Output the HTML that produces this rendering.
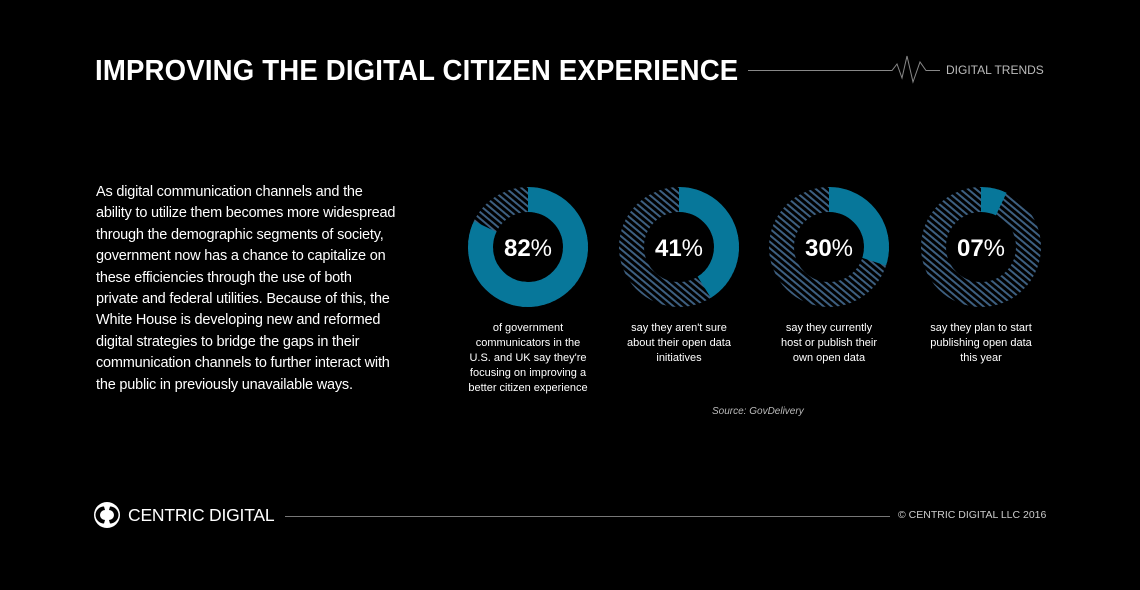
<!DOCTYPE html>
<html><head><meta charset="utf-8"><style>
html,body{margin:0;padding:0;background:#000;}
body{width:1140px;height:590px;position:relative;overflow:hidden;font-family:"Liberation Sans",sans-serif;color:#fff;}
.t{position:absolute;white-space:nowrap;}
h1{position:absolute;left:95px;top:55px;margin:0;font-size:29px;font-weight:bold;letter-spacing:0.2px;transform:scaleX(0.95);transform-origin:left;white-space:nowrap;}
.body div{height:21.4px;font-size:14.5px;letter-spacing:-0.2px;}
.cap{position:absolute;width:160px;text-align:center;font-size:11px;line-height:15px;}
</style></head><body>
<h1>IMPROVING THE DIGITAL CITIZEN EXPERIENCE</h1>
<svg width="1140" height="590" style="position:absolute;left:0;top:0">
<defs><pattern id="h" width="5" height="5" patternUnits="userSpaceOnUse" patternTransform="rotate(40)">
<rect width="5" height="5" fill="#000"/><rect width="2" height="5" fill="#3d5f80"/></pattern></defs>
<polyline points="748,70.5 892,70.5 897,64 902,78 907,56 913,82 920,62 926,70.5 940,70.5" fill="none" stroke="#888" stroke-width="1"/>
<line x1="285" y1="516.5" x2="890" y2="516.5" stroke="#777" stroke-width="1"/>
<g transform="translate(528,247) rotate(-90)">
<circle r="47.5" fill="none" stroke="url(#h)" stroke-width="25"/>
<circle r="47.5" fill="none" stroke="#07779a" stroke-width="25" stroke-dasharray="244.7 400"/>
</g>
<g transform="translate(679,247) rotate(-90)">
<circle r="47.5" fill="none" stroke="url(#h)" stroke-width="25"/>
<circle r="47.5" fill="none" stroke="#07779a" stroke-width="25" stroke-dasharray="122.4 400"/>
</g>
<g transform="translate(829,247) rotate(-90)">
<circle r="47.5" fill="none" stroke="url(#h)" stroke-width="25"/>
<circle r="47.5" fill="none" stroke="#07779a" stroke-width="25" stroke-dasharray="89.5 400"/>
</g>
<g transform="translate(981,247) rotate(-90)">
<circle r="47.5" fill="none" stroke="url(#h)" stroke-width="25"/>
<circle r="47.5" fill="none" stroke="#07779a" stroke-width="25" stroke-dasharray="20.9 400"/>
</g>
<g font-family="Liberation Sans,sans-serif" font-size="24" fill="#fff" text-anchor="middle">
<text x="528" y="256"><tspan font-weight="bold">82</tspan>%</text>
<text x="679" y="256"><tspan font-weight="bold">41</tspan>%</text>
<text x="829" y="256"><tspan font-weight="bold">30</tspan>%</text>
<text x="981" y="256"><tspan font-weight="bold">07</tspan>%</text>
</g>
<circle cx="107" cy="515" r="13" fill="#fff"/>
<path d="M104,506.5 A8.5,8.5 0 0 0 104,523.5 L105,520 A5,5 0 0 1 105,510 Z" fill="#000"/>
<path d="M110,523.5 A8.5,8.5 0 0 0 110,506.5 L109,510 A5,5 0 0 1 109,520 Z" fill="#000"/>
</svg>
<div class="t" style="left:946px;top:63px;font-size:12px;color:#bbb;">DIGITAL TRENDS</div>
<div class="t body" style="left:96px;top:184px;">
<div>As digital communication channels and the</div>
<div>ability to utilize them becomes more widespread</div>
<div>through the demographic segments of society,</div>
<div>government now has a chance to capitalize on</div>
<div>these efficiencies through the use of both</div>
<div>private and federal utilities. Because of this, the</div>
<div>White House is developing new and reformed</div>
<div>digital strategies to bridge the gaps in their</div>
<div>communication channels to further interact with</div>
<div>the public in previously unavailable ways.</div>
</div>
<div class="cap" style="left:448px;top:321px;">of government<br>communicators in the<br>U.S. and UK say they're<br>focusing on improving a<br>better citizen experience</div>
<div class="cap" style="left:599px;top:321px;">say they aren't sure<br>about their open data<br>initiatives</div>
<div class="cap" style="left:749px;top:321px;">say they currently<br>host or publish their<br>own open data</div>
<div class="cap" style="left:901px;top:321px;">say they plan to start<br>publishing open data<br>this year</div>
<div class="t" style="left:712px;top:406px;font-size:10px;font-style:italic;color:#bbb;">Source: GovDelivery</div>
<div class="t" style="left:128px;top:505px;font-size:17.5px;letter-spacing:-0.2px;">CENTRIC DIGITAL</div>
<div class="t" style="left:898px;top:509px;font-size:10.5px;color:#ccc;">© CENTRIC DIGITAL LLC 2016</div>
</body></html>
